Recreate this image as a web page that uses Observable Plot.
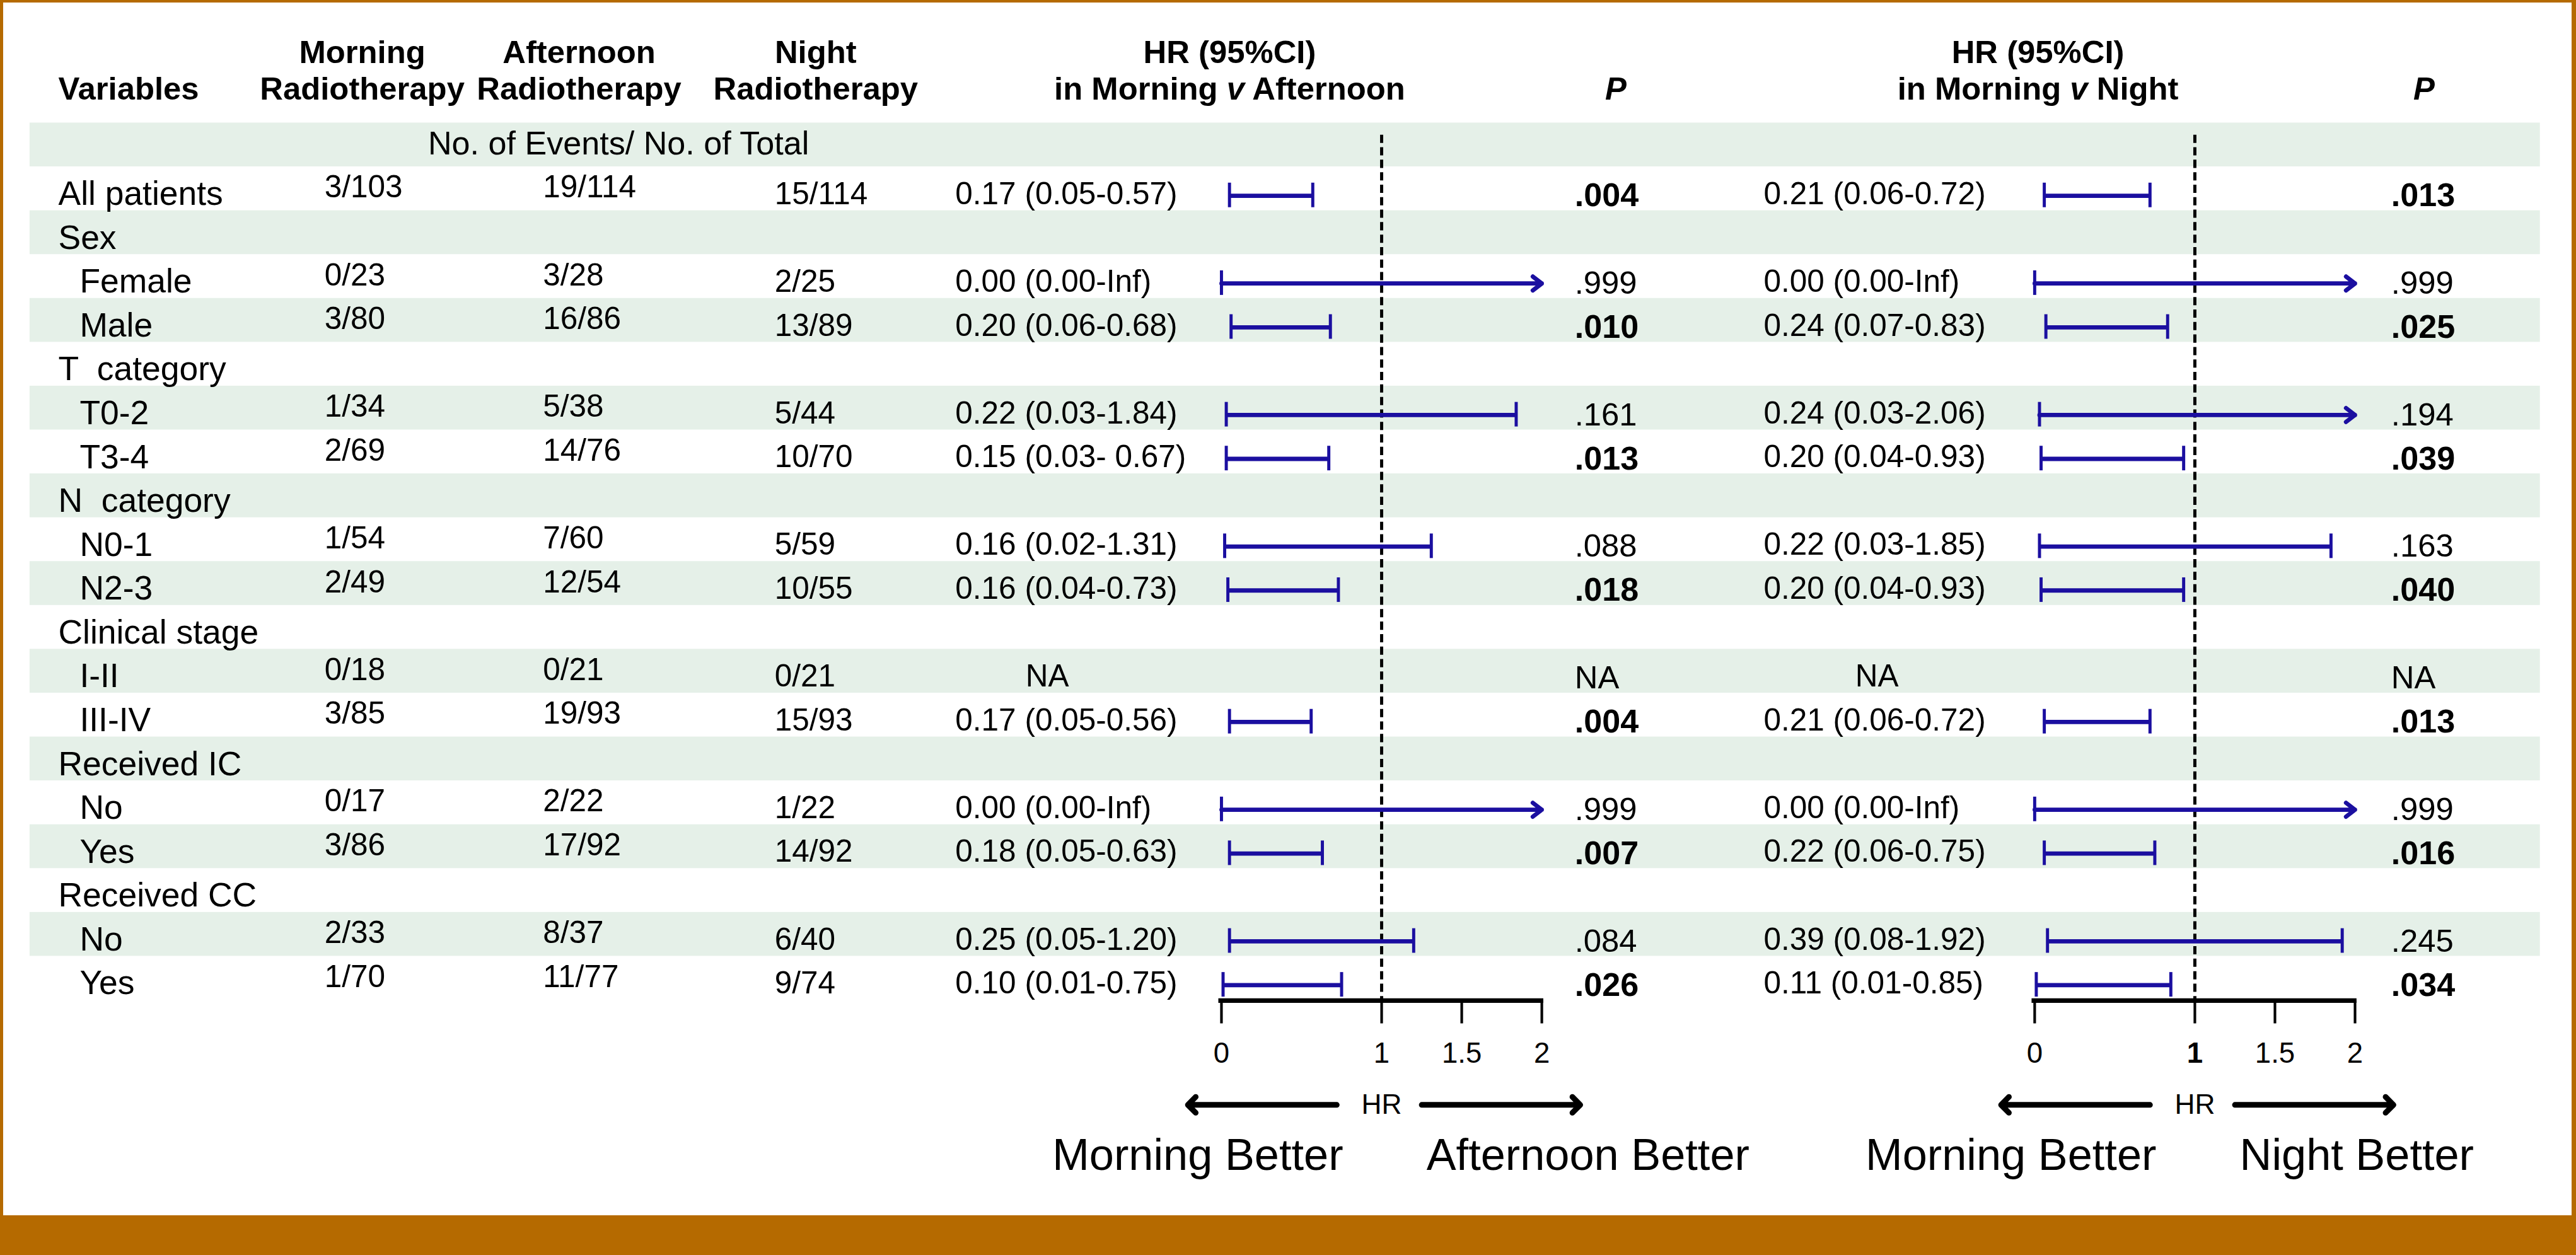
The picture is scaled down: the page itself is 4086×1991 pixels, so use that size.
<!DOCTYPE html>
<html>
<head>
<meta charset="utf-8">
<script src="https://cdn.jsdelivr.net/npm/d3@7"></script>
<script src="https://cdn.jsdelivr.net/npm/@observablehq/plot@0.6"></script>
<style>
  html, body { margin: 0; padding: 0; background: #fff; overflow: hidden; }
  #wrap { position: relative; width: 4086px; height: 1991px; overflow: hidden; background: #fff; }
  #wrap svg { position: absolute; left: 0; top: 0; }
  #frame { position: absolute; left: 0; top: 0; width: 4086px; height: 1991px; box-sizing: border-box;
           border-style: solid; border-color: #B56A00; border-width: 4px 7px 63px 5px; pointer-events: none; }
  svg text { white-space: pre; }
</style>
</head>
<body>
<div id="wrap"><div id="frame"></div></div>
<script>
// ---------------- DATA ----------------
const columnTitles = ["Variables", "Morning\nRadiotherapy", "Afternoon\nRadiotherapy", "Night\nRadiotherapy",
                      "HR (95%CI)\nin Morning v Afternoon", "P", "HR (95%CI)\nin Morning v Night", "P"];
const eventsHeader = "No. of Events/ No. of Total";

const subgroups = ["All patients", "Sex", "Female", "Male", "T  category", "T0-2", "T3-4",
                   "N  category", "N0-1", "N2-3", "Clinical stage", "I-II", "III-IV",
                   "Received IC", "No", "Yes", "Received CC", "No", "Yes"];
const level = [0, 0, 1, 1, 0, 1, 1, 0, 1, 1, 0, 1, 1, 0, 1, 1, 0, 1, 1];

const morningEvents   = ["3/103", "", "0/23", "3/80", "", "1/34", "2/69", "", "1/54", "2/49", "", "0/18", "3/85", "", "0/17", "3/86", "", "2/33", "1/70"];
const afternoonEvents = ["19/114", "", "3/28", "16/86", "", "5/38", "14/76", "", "7/60", "12/54", "", "0/21", "19/93", "", "2/22", "17/92", "", "8/37", "11/77"];
const nightEvents     = ["15/114", "", "2/25", "13/89", "", "5/44", "10/70", "", "5/59", "10/55", "", "0/21", "15/93", "", "1/22", "14/92", "", "6/40", "9/74"];

// Morning v Afternoon
const ciText1 = ["0.17 (0.05-0.57)", "", "0.00 (0.00-Inf)", "0.20 (0.06-0.68)", "", "0.22 (0.03-1.84)", "0.15 (0.03- 0.67)",
                 "", "0.16 (0.02-1.31)", "0.16 (0.04-0.73)", "", "NA", "0.17 (0.05-0.56)", "", "0.00 (0.00-Inf)",
                 "0.18 (0.05-0.63)", "", "0.25 (0.05-1.20)", "0.10 (0.01-0.75)"];
const lower1 = [0.05, null, 0.00, 0.06, null, 0.03, 0.03, null, 0.02, 0.04, null, null, 0.05, null, 0.00, 0.05, null, 0.05, 0.01];
const upper1 = [0.57, null, Infinity, 0.68, null, 1.84, 0.67, null, 1.31, 0.73, null, null, 0.56, null, Infinity, 0.63, null, 1.20, 0.75];
const pText1 = [".004", "", ".999", ".010", "", ".161", ".013", "", ".088", ".018", "", "NA", ".004", "", ".999", ".007", "", ".084", ".026"];

// Morning v Night
const ciText2 = ["0.21 (0.06-0.72)", "", "0.00 (0.00-Inf)", "0.24 (0.07-0.83)", "", "0.24 (0.03-2.06)", "0.20 (0.04-0.93)",
                 "", "0.22 (0.03-1.85)", "0.20 (0.04-0.93)", "", "NA", "0.21 (0.06-0.72)", "", "0.00 (0.00-Inf)",
                 "0.22 (0.06-0.75)", "", "0.39 (0.08-1.92)", "0.11 (0.01-0.85)"];
const lower2 = [0.06, null, 0.00, 0.07, null, 0.03, 0.04, null, 0.03, 0.04, null, null, 0.06, null, 0.00, 0.06, null, 0.08, 0.01];
const upper2 = [0.72, null, Infinity, 0.83, null, 2.06, 0.93, null, 1.85, 0.93, null, null, 0.72, null, Infinity, 0.75, null, 1.92, 0.85];
const pText2 = [".013", "", ".999", ".025", "", ".194", ".039", "", ".163", ".040", "", "NA", ".013", "", ".999", ".016", "", ".245", ".034"];

const xTicks = [0, 1, 1.5, 2];
const REF = 1;
const axisTitle = "HR";
const betterLabels = [["Morning Better", "Afternoon Better"], ["Morning Better", "Night Better"]];

// ---------------- LAYOUT (design units = reference pixels) ----------------
const W = 1568, H = 764, OUT_W = 4086, OUT_H = 1991;
const M = {top: 82, right: 22, bottom: 155, left: 18};
const BLUE = "#1B0FA0", SHADE = "#E5F0E8";
const FONT = "'Liberation Sans', Arial, Helvetica, sans-serif";
const colX = {label: 35, sub: 48, morning: 197, afternoon: 330, night: 471, events: 376,
              ci1: 581, na1: 637, p1: 958, ci2: 1073, na2: 1142, p2: 1455};
const headX = [35, 220, 352, 496, 748, 983, 1240, 1475];
const headAnchor = ["start", "middle", "middle", "middle", "middle", "middle", "middle", "middle"];
const panelShift = 495;
const CAP = 0.28;

// ---------------- DERIVED TABLE ----------------
const rows = subgroups.map((label, i) => ({
  row: i + 1, label, level: level[i],
  morning: morningEvents[i], afternoon: afternoonEvents[i], night: nightEvents[i],
  ci1: ciText1[i], lo1: lower1[i], hi1: upper1[i], p1: pText1[i],
  ci2: ciText2[i], lo2: lower2[i], hi2: upper2[i], p2: pText2[i]
}));
const xMax = xTicks[xTicks.length - 1];
const yBottom = subgroups.length + 0.5;
const shadedRows = d3.range(0, subgroups.length + 1, 2);
const sig = s => s !== "" && s !== "NA" && parseFloat(s) < 0.05;

function forest(k) {
  return rows.filter(d => d["lo" + k] != null).map(d => ({
    row: d.row, lo: d["lo" + k], hi: d["hi" + k],
    x2: Math.min(d["hi" + k], xMax), open: d["hi" + k] > xMax
  }));
}

const txt = (data, opts) => Plot.text(data, {frameAnchor: "left", y: "row", textAnchor: "start", fontSize: 19, ...opts});

function tableMarks() {
  const marks = [];
  columnTitles.forEach((t, i) => {
    const multi = t.includes("\n");
    marks.push(Plot.text([t], {
      text: d => d, frameAnchor: "top-left", dx: headX[i] - M.left, dy: (multi ? 42 : 53) - M.top,
      textAnchor: headAnchor[i], lineAnchor: "middle", lineHeight: 1.13,
      fontWeight: "bold", fontSize: 19.5, fontStyle: t === "P" ? "italic" : "normal"
    }));
  });
  marks.push(Plot.text([eventsHeader], {text: d => d, y: 0, frameAnchor: "left", dx: colX.events - M.left,
                                        dy: -1, textAnchor: "middle", fontSize: 20}));
  marks.push(txt(rows.filter(d => d.level === 0), {text: "label", dx: colX.label - M.left, dy: 3, fontSize: 20.5}));
  marks.push(txt(rows.filter(d => d.level === 1), {text: "label", dx: colX.sub - M.left, dy: 3, fontSize: 20.5}));
  marks.push(txt(rows, {text: "morning", dx: colX.morning - M.left, dy: -1}));
  marks.push(txt(rows, {text: "afternoon", dx: colX.afternoon - M.left, dy: -1}));
  marks.push(txt(rows, {text: "night", dx: colX.night - M.left, dy: 3}));
  [1, 2].forEach(k => {
    marks.push(txt(rows.filter(d => d["ci" + k] !== "NA"), {text: "ci" + k, dx: colX["ci" + k] - M.left, dy: 3}));
    marks.push(txt(rows.filter(d => d["ci" + k] === "NA"), {text: "ci" + k, dx: colX["na" + k] - M.left, dy: 3, textAnchor: "middle"}));
    marks.push(txt(rows.filter(d => sig(d["p" + k])), {text: "p" + k, dx: colX["p" + k] - M.left, dy: 4, fontWeight: "bold", fontSize: 20}));
    marks.push(txt(rows.filter(d => !sig(d["p" + k])), {text: "p" + k, dx: colX["p" + k] - M.left, dy: 4, fontSize: 19.5}));
  });
  return marks;
}

function panelMarks(k, shift, better) {
  const data = forest(k);
  const closed = data.filter(d => !d.open), open = data.filter(d => d.open);
  const ci = {stroke: BLUE, strokeWidth: 2.6, dx: shift, dy: 4};
  return [
    Plot.ruleX([REF], {x: d => d, stroke: "#000", strokeWidth: 1.9, strokeDasharray: "5,2.6", dx: shift}),
    Plot.link(closed, {x1: "lo", x2: "x2", y1: "row", y2: "row", ...ci}),
    Plot.arrow(open, {x1: "lo", x2: "x2", y1: "row", y2: "row", headLength: 4, headAngle: 75, ...ci}),
    Plot.ruleX(data, {x: "lo", y1: d => d.row - CAP, y2: d => d.row + CAP, ...ci, strokeWidth: 1.9}),
    Plot.ruleX(closed, {x: "x2", y1: d => d.row - CAP, y2: d => d.row + CAP, ...ci, strokeWidth: 1.9}),
    Plot.ruleY([yBottom], {x1: xTicks[0], x2: xMax, stroke: "#000", strokeWidth: 2.8, strokeLinecap: "square", dx: shift}),
    Plot.axisX(xTicks, {anchor: "bottom", tickSize: 14, tickPadding: 11, tickFormat: d => String(d),
                        fontSize: 17.5, strokeWidth: 1.6, label: null, dx: shift}),
    Plot.text([axisTitle], {text: d => d, x: REF, y: yBottom, dy: 63.5, fontSize: 17, dx: shift}),
    Plot.arrow([REF], {x1: d => d - 0.28, x2: xTicks[0] - 0.21, y1: yBottom, y2: yBottom, dy: 63.5,
                       stroke: "#000", strokeWidth: 3.4, headLength: 3, headAngle: 90, dx: shift}),
    Plot.arrow([REF], {x1: d => d + 0.25, x2: xMax + 0.24, y1: yBottom, y2: yBottom, dy: 63.5,
                       stroke: "#000", strokeWidth: 3.4, headLength: 3, headAngle: 90, dx: shift}),
    Plot.text([better[0]], {text: d => d, x: REF - 0.24, y: yBottom, dy: 94.5, textAnchor: "end", fontSize: 27, dx: shift}),
    Plot.text([better[1]], {text: d => d, x: REF + 0.28, y: yBottom, dy: 94.5, textAnchor: "start", fontSize: 27, dx: shift})
  ];
}

const chart = Plot.plot({
  width: W, height: H,
  marginTop: M.top, marginRight: M.right, marginBottom: M.bottom, marginLeft: M.left,
  x: {domain: [xTicks[0], xMax], range: [743, 938], axis: null},
  y: {domain: [-0.5, yBottom], range: [74.6, 608.6], axis: null},
  style: {fontFamily: FONT, fontSize: "19px", color: "#000", background: "transparent", overflow: "visible"},
  marks: [
    Plot.rect(shadedRows, {y1: d => d - 0.5, y2: d => d + 0.5, fill: SHADE}),
    ...tableMarks(),
    ...panelMarks(1, 0, betterLabels[0]),
    ...panelMarks(2, panelShift, betterLabels[1])
  ]
});

// italic "v" in the comparison headers
const NS = "http://www.w3.org/2000/svg";
chart.querySelectorAll("text, tspan").forEach(el => {
  if (el.children.length === 0 && /^in Morning v /.test(el.textContent)) {
    const [a, b] = el.textContent.split(" v ");
    el.textContent = "";
    const s1 = document.createElementNS(NS, "tspan"); s1.textContent = a + " ";
    const s2 = document.createElementNS(NS, "tspan"); s2.textContent = "v"; s2.setAttribute("font-style", "italic");
    const s3 = document.createElementNS(NS, "tspan"); s3.textContent = " " + b;
    el.append(s1, s2, s3);
  }
});
// the reference line tick "1" is bold on the second panel
const tickLabelGroups = chart.querySelectorAll('g[aria-label="x-axis tick label"]');
if (tickLabelGroups.length > 1) {
  tickLabelGroups[1].querySelectorAll("text").forEach(t => { if (t.textContent === String(REF)) t.setAttribute("font-weight", "bold"); });
}

chart.setAttribute("width", OUT_W);
chart.setAttribute("height", OUT_H);
chart.style.width = OUT_W + "px";
chart.style.height = OUT_H + "px";
chart.style.maxWidth = "none";
const wrap = document.getElementById("wrap");
wrap.insertBefore(chart, document.getElementById("frame"));
</script>
</body>
</html>
